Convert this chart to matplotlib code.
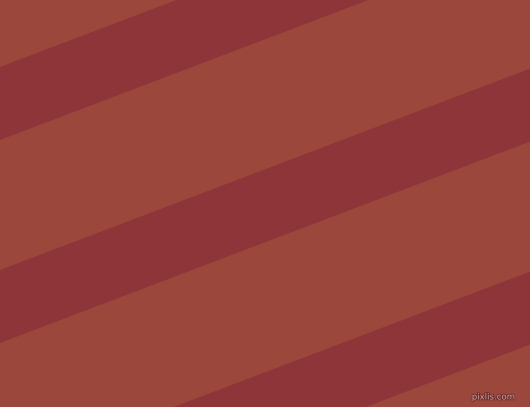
import matplotlib
matplotlib.use('Agg')
import matplotlib.pyplot as plt
import matplotlib.patheffects as pe
import numpy as np

# stripe pattern (pixel units, y down)
width, height = 530, 407
stripe_tops = [67, 270, 473]      # top edge of each dark band at x = 0
stripe_thickness = 73             # vertical thickness of a band
slope = 0.38                      # edges rise this much per pixel to the right

light_color = '#9b473c'
dark_color = '#8e3539'

fig = plt.figure(figsize=(width / 100, height / 100), dpi=100)
fig.patch.set_facecolor(light_color)
ax = fig.add_axes([0, 0, 1, 1])
ax.set_facecolor(light_color)

xs = np.array([0, width])
for top in stripe_tops:
    upper = top - slope * xs
    lower = upper + stripe_thickness
    ax.fill_between(xs, upper, lower, color=dark_color, linewidth=0)

ax.text(515, 397, 'pixlis.com', fontsize=6.2, color='#c7a3a0',
        ha='right', va='center', family='DejaVu Sans',
        path_effects=[pe.withStroke(linewidth=1.2, foreground='#6e2a2a')])

ax.set_xlim(0, width)
ax.set_ylim(height, 0)
ax.axis('off')

plt.savefig('out.png', dpi=100, facecolor=light_color)
